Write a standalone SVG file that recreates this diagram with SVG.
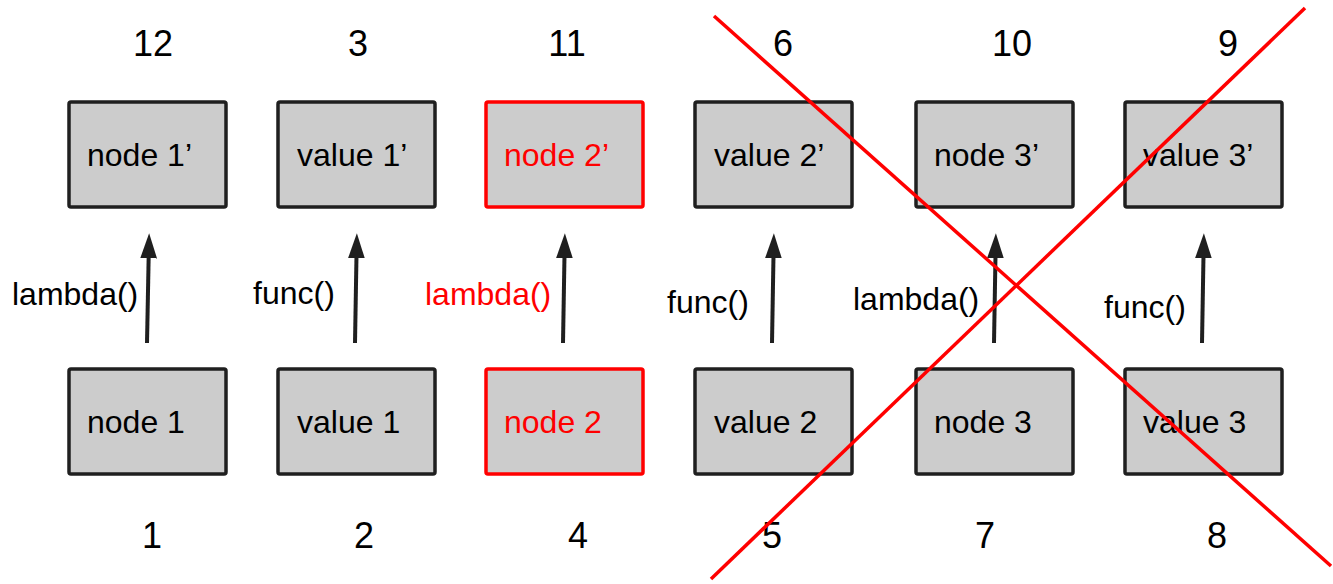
<svg xmlns="http://www.w3.org/2000/svg" width="1333" height="584" viewBox="0 0 1333 584">
<style>
text{font-family:"Liberation Sans",Arial,sans-serif;fill:#000}
.lbl{font-size:32px}
.num{font-size:36px;text-anchor:middle}
.red{fill:#ff0000}
.box{fill:#cccccc;stroke:#1f1f1f;stroke-width:3.5}
.rbox{fill:#cccccc;stroke:#ff0000;stroke-width:3.5}
.arr{stroke:#1f1f1f;stroke-width:4;fill:none;marker-end:url(#ah)}
.cross{stroke:#ff0000;stroke-width:3.5}
</style>
<defs>
<marker id="ah" viewBox="0 0 15 10" refX="2" refY="5" markerWidth="6.3" markerHeight="4.2" orient="auto" markerUnits="strokeWidth">
<path d="M0,0 L15,5 L0,10 z" fill="#1f1f1f"/>
</marker>
</defs>
<rect width="1333" height="584" fill="#ffffff"/>
<g id="numbers">
<text class="num" x="153" y="56">12</text>
<text class="num" x="358" y="56">3</text>
<text class="num" x="567" y="56">11</text>
<text class="num" x="783" y="56">6</text>
<text class="num" x="1012" y="56">10</text>
<text class="num" x="1228" y="56">9</text>
<text class="num" x="152" y="548">1</text>
<text class="num" x="364" y="548">2</text>
<text class="num" x="578" y="548">4</text>
<text class="num" x="772" y="548">5</text>
<text class="num" x="985" y="548">7</text>
<text class="num" x="1217" y="548">8</text>
</g>
<g id="node1p"><rect class="box" x="69" y="102" width="157" height="105" rx="2"/><text class="lbl" x="87" y="166">node 1’</text></g>
<g id="value1p"><rect class="box" x="278" y="102" width="157" height="105" rx="2"/><text class="lbl" x="297" y="166">value 1’</text></g>
<g id="node2p"><rect class="rbox" x="486" y="102" width="157" height="105" rx="2"/><text class="lbl red" x="504" y="166">node 2’</text></g>
<g id="value2p"><rect class="box" x="695" y="102" width="157" height="105" rx="2"/><text class="lbl" x="714" y="166">value 2’</text></g>
<g id="node3p"><rect class="box" x="916" y="102" width="157" height="105" rx="2"/><text class="lbl" x="934" y="166">node 3’</text></g>
<g id="value3p"><rect class="box" x="1125" y="102" width="157" height="105" rx="2"/><text class="lbl" x="1143" y="166">value 3’</text></g>
<g id="node1"><rect class="box" x="69" y="369" width="157" height="105" rx="2"/><text class="lbl" x="87" y="433">node 1</text></g>
<g id="value1"><rect class="box" x="278" y="369" width="157" height="105" rx="2"/><text class="lbl" x="297" y="433">value 1</text></g>
<g id="node2"><rect class="rbox" x="486" y="369" width="157" height="105" rx="2"/><text class="lbl red" x="504" y="433">node 2</text></g>
<g id="value2"><rect class="box" x="695" y="369" width="157" height="105" rx="2"/><text class="lbl" x="714" y="433">value 2</text></g>
<g id="node3"><rect class="box" x="916" y="369" width="157" height="105" rx="2"/><text class="lbl" x="934" y="433">node 3</text></g>
<g id="value3"><rect class="box" x="1125" y="369" width="157" height="105" rx="2"/><text class="lbl" x="1143" y="433">value 3</text></g>
<g id="connectors">
<line class="arr" x1="147" y1="343" x2="148.7" y2="255"/>
<line class="arr" x1="355" y1="343" x2="356.5" y2="255"/>
<line class="arr" x1="563" y1="343" x2="564.5" y2="255"/>
<line class="arr" x1="772" y1="343" x2="773.5" y2="255"/>
<line class="arr" x1="994" y1="343" x2="995.5" y2="255"/>
<line class="arr" x1="1202" y1="343" x2="1203.5" y2="255"/>
<text class="lbl" x="12" y="305">lambda()</text>
<text class="lbl" x="253" y="304">func()</text>
<text class="lbl red" x="425" y="305">lambda()</text>
<text class="lbl" x="667" y="313">func()</text>
<text class="lbl" x="853" y="310">lambda()</text>
<text class="lbl" x="1104" y="318">func()</text>
</g>
<g id="cross">
<line class="cross" x1="714" y1="16" x2="1331" y2="566"/>
<line class="cross" x1="1305" y1="8" x2="711" y2="579"/>
</g>
</svg>
